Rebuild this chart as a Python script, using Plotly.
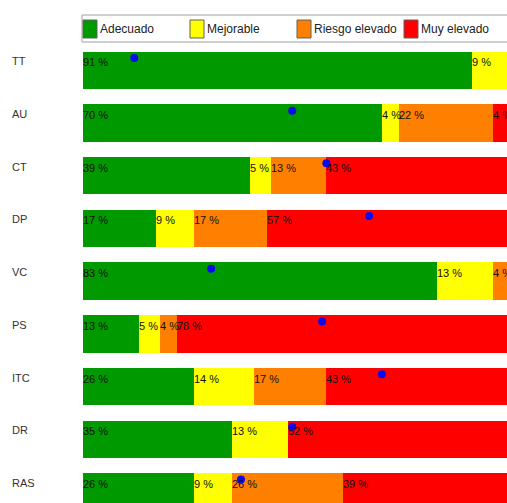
import plotly.graph_objects as go

categories = ["TT", "AU", "CT", "DP", "VC", "PS", "ITC", "DR", "RAS"]
series_names = ["Adecuado", "Mejorable", "Riesgo elevado", "Muy elevado"]
adecuado = [91, 70, 39, 17, 83, 13, 26, 35, 26]
mejorable = [9, 4, 5, 9, 13, 5, 14, 13, 9]
riesgo = [0, 22, 13, 17, 4, 4, 17, 0, 26]
muy_elevado = [0, 4, 43, 57, 0, 78, 43, 52, 39]
dot_values = [12, 49, 57, 67, 30, 56, 70, 49, 37]

colors = ["#009900", "#ffff00", "#ff8000", "#ff0000"]
series = [adecuado, mejorable, riesgo, muy_elevado]
idx = list(range(len(categories)))

W, H = 507, 503
ML, MT = 83, 44
PW, PH = W - ML, H - MT


def px(xp):
    return (xp - ML) / PW


def py(yp):
    return (H - yp) / PH


fig = go.Figure()
for name, vals, col in zip(series_names, series, colors):
    fig.add_trace(go.Bar(
        y=idx, x=vals, name=name, orientation="h",
        marker=dict(color=col, line=dict(width=0)),
        width=0.71, hoverinfo="x+name", showlegend=False,
    ))

fig.add_trace(go.Scatter(
    x=dot_values, y=[i - 0.235 for i in idx], mode="markers",
    marker=dict(color="#0a0aee", size=8, symbol="circle"),
    showlegend=False, hoverinfo="x",
))

annotations = []
shapes = []
for i, cat in enumerate(categories):
    annotations.append(dict(
        x=0, y=i, xref="paper", yref="y", text=cat, showarrow=False,
        xanchor="left", yanchor="middle", xshift=-73, yshift=9,
        font=dict(family="Liberation Sans, Arial, sans-serif", size=11, color="#333333"),
    ))
    start = 0
    for vals in series:
        v = vals[i]
        if v > 0:
            annotations.append(dict(
                x=start, y=i, xref="x", yref="y", text=f"{v} %", showarrow=False,
                xanchor="left", yanchor="middle", xshift=-2, yshift=8,
                font=dict(family="Liberation Sans, Arial, sans-serif", size=11, color="#111111"),
            ))
        start += v

# legend box (custom, to mimic the original swatch layout)
shapes.append(dict(type="rect", xref="paper", yref="paper",
                   x0=px(82), x1=px(512), y0=py(42), y1=py(15),
                   line=dict(color="#a0a0a0", width=1), fillcolor="white", layer="above"))
for k, (name, col) in enumerate(zip(series_names, colors)):
    x0 = 83 + 107 * k
    shapes.append(dict(type="rect", xref="paper", yref="paper",
                       x0=px(x0), x1=px(x0 + 14), y0=py(38), y1=py(20),
                       line=dict(color="#606060", width=1), fillcolor=col, layer="above"))
    annotations.append(dict(
        x=px(x0 + 15), y=py(29), xref="paper", yref="paper", text=name, showarrow=False,
        xanchor="left", yanchor="middle",
        font=dict(family="Liberation Sans, Arial, sans-serif", size=12, color="#222222"),
    ))

fig.update_layout(
    width=W, height=H,
    margin=dict(l=ML, r=0, t=MT, b=0),
    barmode="stack",
    plot_bgcolor="white", paper_bgcolor="white",
    xaxis=dict(range=[0, 99.3], showgrid=False, zeroline=False, showticklabels=False,
               showline=False, fixedrange=True),
    yaxis=dict(range=[8.21, -0.5], showgrid=False, zeroline=False, showticklabels=False,
               showline=False, fixedrange=True),
    annotations=annotations,
    shapes=shapes,
    showlegend=False,
)

fig.write_html("out.html", config={"displayModeBar": False},
               post_script="document.body.style.margin='0';document.body.style.overflow='hidden';")
